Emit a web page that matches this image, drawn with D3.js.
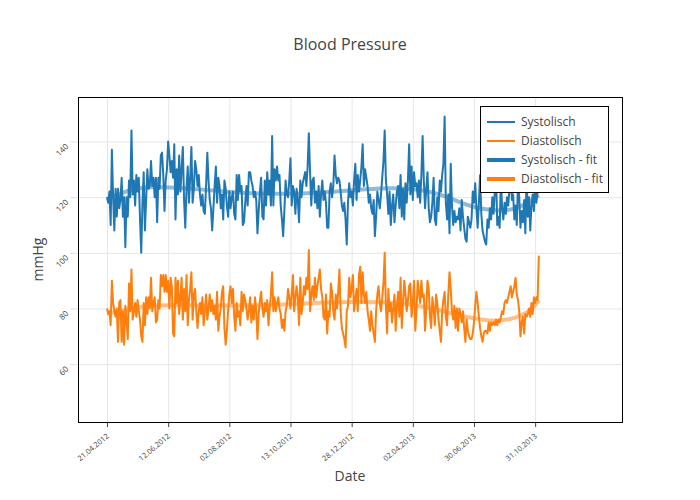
<!DOCTYPE html>
<html><head><meta charset="utf-8">
<script src="https://cdn.jsdelivr.net/npm/d3@7"></script>
<style>body{margin:0;background:#fff} svg{font-family:"Open Sans",sans-serif}</style>
</head><body><div id="chart"></div>
<script>
const chartTitle = "Blood Pressure";
const xTitle = "Date";
const yTitle = "mmHg";
const xTickIdx = [0,50,100,150,200,250,300,350];
const xTickLabels = ["21.04.2012","12.06.2012","02.08.2012","13.10.2012","28.12.2012","02.04.2013","30.06.2013","31.10.2013"];
const yTicks = [60,80,100,120,140];
const seriesNames = ["Systolisch","Diastolisch","Systolisch - fit","Diastolisch - fit"];
const seriesColors = ["#1f77b4","#ff7f0e","#1f77b4","#ff7f0e"];

const systolic = [
120,118,122,110,137,120,108,123,113,123,
116,119,127,113,120,102,120,113,126,120,
144,121,126,117,128,122,127,112,100,118,
129,108,119,130,123,124,133,124,127,120,
127,111,127,123,135,136,128,115,126,130,
140,135,129,133,127,139,112,130,121,135,
122,130,138,119,109,123,131,118,127,138,
118,123,133,130,124,128,121,117,121,115,
114,124,136,126,119,116,108,116,124,131,
118,127,124,116,121,112,126,123,117,113,
122,116,120,122,114,112,128,119,128,122,
124,110,111,118,124,117,129,129,126,124,
120,122,119,107,115,122,127,113,112,126,
117,129,121,126,117,142,117,130,126,131,
126,128,117,112,106,115,126,121,120,126,
134,117,124,122,114,123,119,111,126,120,
125,127,129,124,131,143,129,117,126,127,
118,122,116,124,113,121,126,119,122,118,
109,109,122,125,120,124,135,128,125,127,
126,122,117,115,118,112,103,118,125,120,
122,117,126,132,119,128,122,126,131,139,
124,130,127,124,118,121,116,114,119,106,
113,122,119,116,121,127,133,144,126,121,
114,122,110,117,121,111,117,122,124,116,
128,113,123,112,125,118,126,139,121,131,
119,129,124,125,120,126,118,128,142,126,
116,123,129,116,111,113,118,127,112,110,
120,115,126,122,128,132,149,118,112,121,
107,132,117,110,115,111,113,112,116,108,
119,113,109,105,104,113,111,109,112,122,
118,125,116,109,118,128,114,108,106,104,
103,112,109,116,112,120,114,122,130,110,
113,109,127,116,112,118,114,120,117,123,
129,119,121,112,117,110,126,120,109,115,
111,119,107,128,113,120,108,117,121,115,
126,118,122,124
];

const diastolic = [
80,78,79,74,90,82,79,77,80,68,
82,83,68,79,67,81,76,69,89,79,
94,76,79,82,77,83,79,76,70,68,
82,74,84,78,84,80,91,79,82,84,
75,76,83,80,92,88,92,86,92,86,
90,80,91,88,71,70,91,82,90,78,
84,91,76,87,79,92,74,83,87,93,
76,85,87,79,73,79,82,78,84,74,
79,85,76,80,85,79,83,78,81,76,
86,72,77,80,86,88,73,67,72,79,
85,88,82,87,77,72,82,77,79,74,
86,79,85,83,80,76,79,84,75,81,
76,84,79,69,78,83,86,80,77,82,
79,83,74,80,85,93,79,84,79,82,
84,80,78,73,76,72,79,81,87,84,
80,85,92,79,84,88,84,74,91,78,
82,88,85,91,87,101,79,85,88,83,
91,84,88,91,94,87,84,77,76,85,
71,79,77,89,86,79,76,85,80,86,
94,79,73,71,69,66,79,81,91,84,
87,92,79,83,87,79,92,95,82,93,
85,82,86,79,76,72,79,74,71,68,
79,85,88,82,79,84,89,100,81,71,
87,79,82,75,80,85,72,81,86,77,
91,73,82,90,85,79,83,88,89,77,
82,90,72,79,90,86,82,90,84,85,
72,80,90,87,77,73,84,80,74,85,
82,76,72,68,79,83,86,77,74,85,
93,87,79,76,81,73,80,72,80,78,
75,79,73,68,76,72,70,69,69,71,
75,81,86,82,77,73,70,68,71,72,
72,71,75,72,75,74,75,74,76,74,
76,75,77,79,78,82,83,82,84,86,
88,84,86,88,91,85,83,79,70,75,
77,71,78,77,78,80,77,82,78,84,
82,84,83,99
];

const sysFitIdx = [0,11,21,35,49,76,103,130,158,185,212,234,253,266,280,294,307,321,334,345,353];
const sysFitVal = [119.3,121.3,123.1,123.7,123.6,122.9,121.6,121.2,121.2,121.9,122.9,123.4,122.8,121.9,119.8,117.1,115.7,115.0,115.6,118.3,120.7];
const diaFitIdx = [0,11,21,35,62,90,117,144,171,198,226,245,261,275,288,302,315,329,340,348,353];
const diaFitVal = [78.2,79.0,80.2,81.2,81.2,81.0,81.1,81.4,82.0,82.4,82.3,81.7,80.5,79.0,77.5,76.3,75.4,75.9,77.6,80.0,83.0];

const W = 700, H = 500;
const L = 78, R = 622, T = 97, B = 422;
const svg = d3.select("#chart").append("svg").attr("width", W).attr("height", H);

const x = d3.scaleLinear().domain([-23.7, 421]).range([L, R]);
const y = d3.scaleLinear().domain([39.2, 156]).range([B, T]);

// grid
const grid = svg.append("g");
grid.append("g").attr("transform", `translate(0,${B})`)
  .call(d3.axisBottom(x).tickValues(xTickIdx).tickSize(-(B - T)).tickFormat(""))
  .call(g => { g.select(".domain").remove(); g.selectAll("line").attr("stroke", "#e6e6e6"); });
grid.append("g").attr("transform", `translate(${L},0)`)
  .call(d3.axisLeft(y).tickValues(yTicks).tickSize(-(R - L)).tickFormat(""))
  .call(g => { g.select(".domain").remove(); g.selectAll("line").attr("stroke", "#e6e6e6"); });

// y axis outer ticks + labels
const ya = svg.append("g").attr("transform", `translate(${L},0)`)
  .call(d3.axisLeft(y).tickValues(yTicks).tickSize(8).tickFormat(d => d));
ya.select(".domain").remove();
ya.selectAll("line").attr("stroke", "#e0e0e0");
ya.selectAll("text").attr("x", null).attr("dy", null)
  .attr("transform", "translate(-9,5) rotate(-45)")
  .attr("text-anchor", "end").attr("fill", "#444")
  .style("font-size", "8px").style("font-family", "'Open Sans',sans-serif");

// x axis ticks + labels
const xa = svg.append("g").attr("transform", `translate(0,${B})`)
  .call(d3.axisBottom(x).tickValues(xTickIdx).tickSize(5).tickFormat((d, i) => xTickLabels[i]));
xa.select(".domain").remove();
xa.selectAll("line").attr("stroke", "#444");
xa.selectAll("text").attr("y", null).attr("dy", null)
  .attr("transform", "translate(2,15) rotate(-40)")
  .attr("text-anchor", "end").attr("fill", "#444")
  .style("font-size", "7.5px").style("font-family", "'Open Sans',sans-serif");

// lines
const clip = svg.append("clipPath").attr("id", "clip").append("rect")
  .attr("x", L).attr("y", T).attr("width", R - L).attr("height", B - T);
const plot = svg.append("g").attr("clip-path", "url(#clip)");
const line = d3.line().x((d, i) => x(i)).y(d => y(d));
plot.append("path").datum(systolic).attr("d", line)
  .attr("fill", "none").attr("stroke", seriesColors[0]).attr("stroke-width", 2).attr("stroke-linejoin", "round");
plot.append("path").datum(diastolic).attr("d", line)
  .attr("fill", "none").attr("stroke", seriesColors[1]).attr("stroke-width", 2).attr("stroke-linejoin", "round");
const fitLine = d3.line().x(d => x(d[0])).y(d => y(d[1])).curve(d3.curveBasis);
plot.append("path").datum(sysFitIdx.map((d, i) => [d, sysFitVal[i]])).attr("d", fitLine)
  .attr("fill", "none").attr("stroke", seriesColors[2]).attr("stroke-width", 4).attr("stroke-opacity", 0.5);
plot.append("path").datum(diaFitIdx.map((d, i) => [d, diaFitVal[i]])).attr("d", fitLine)
  .attr("fill", "none").attr("stroke", seriesColors[3]).attr("stroke-width", 4).attr("stroke-opacity", 0.5);

// frame
svg.append("rect").attr("x", L + 0.5).attr("y", T + 0.5).attr("width", R - L).attr("height", B - T)
  .attr("fill", "none").attr("stroke", "#000").attr("stroke-width", 1);

// titles
svg.append("text").attr("x", 350).attr("y", 50).attr("text-anchor", "middle")
  .attr("fill", "#444").style("font-size", "16px").text(chartTitle);
svg.append("text").attr("x", 350).attr("y", 481).attr("text-anchor", "middle")
  .attr("fill", "#444").style("font-size", "14px").text(xTitle);
svg.append("text").attr("transform", "translate(43,259.5) rotate(-90)").attr("text-anchor", "middle")
  .attr("fill", "#444").style("font-size", "14px").text(yTitle);

// legend
const lg = svg.append("g").attr("transform", "translate(480.5,106.5)");
lg.append("rect").attr("width", 128).attr("height", 86).attr("fill", "#fff").attr("stroke", "#000").attr("stroke-width", 1);
seriesNames.forEach((name, i) => {
  const cy = 15.5 + i * 19;
  lg.append("line").attr("x1", 6.5).attr("x2", 34.5).attr("y1", cy).attr("y2", cy)
    .attr("stroke", seriesColors[i]).attr("stroke-width", i < 2 ? 2 : 4);
  lg.append("text").attr("x", 40.5).attr("y", cy).attr("dy", "0.35em")
    .attr("fill", "#444").style("font-size", "12px").text(name);
});
</script>
</body></html>
